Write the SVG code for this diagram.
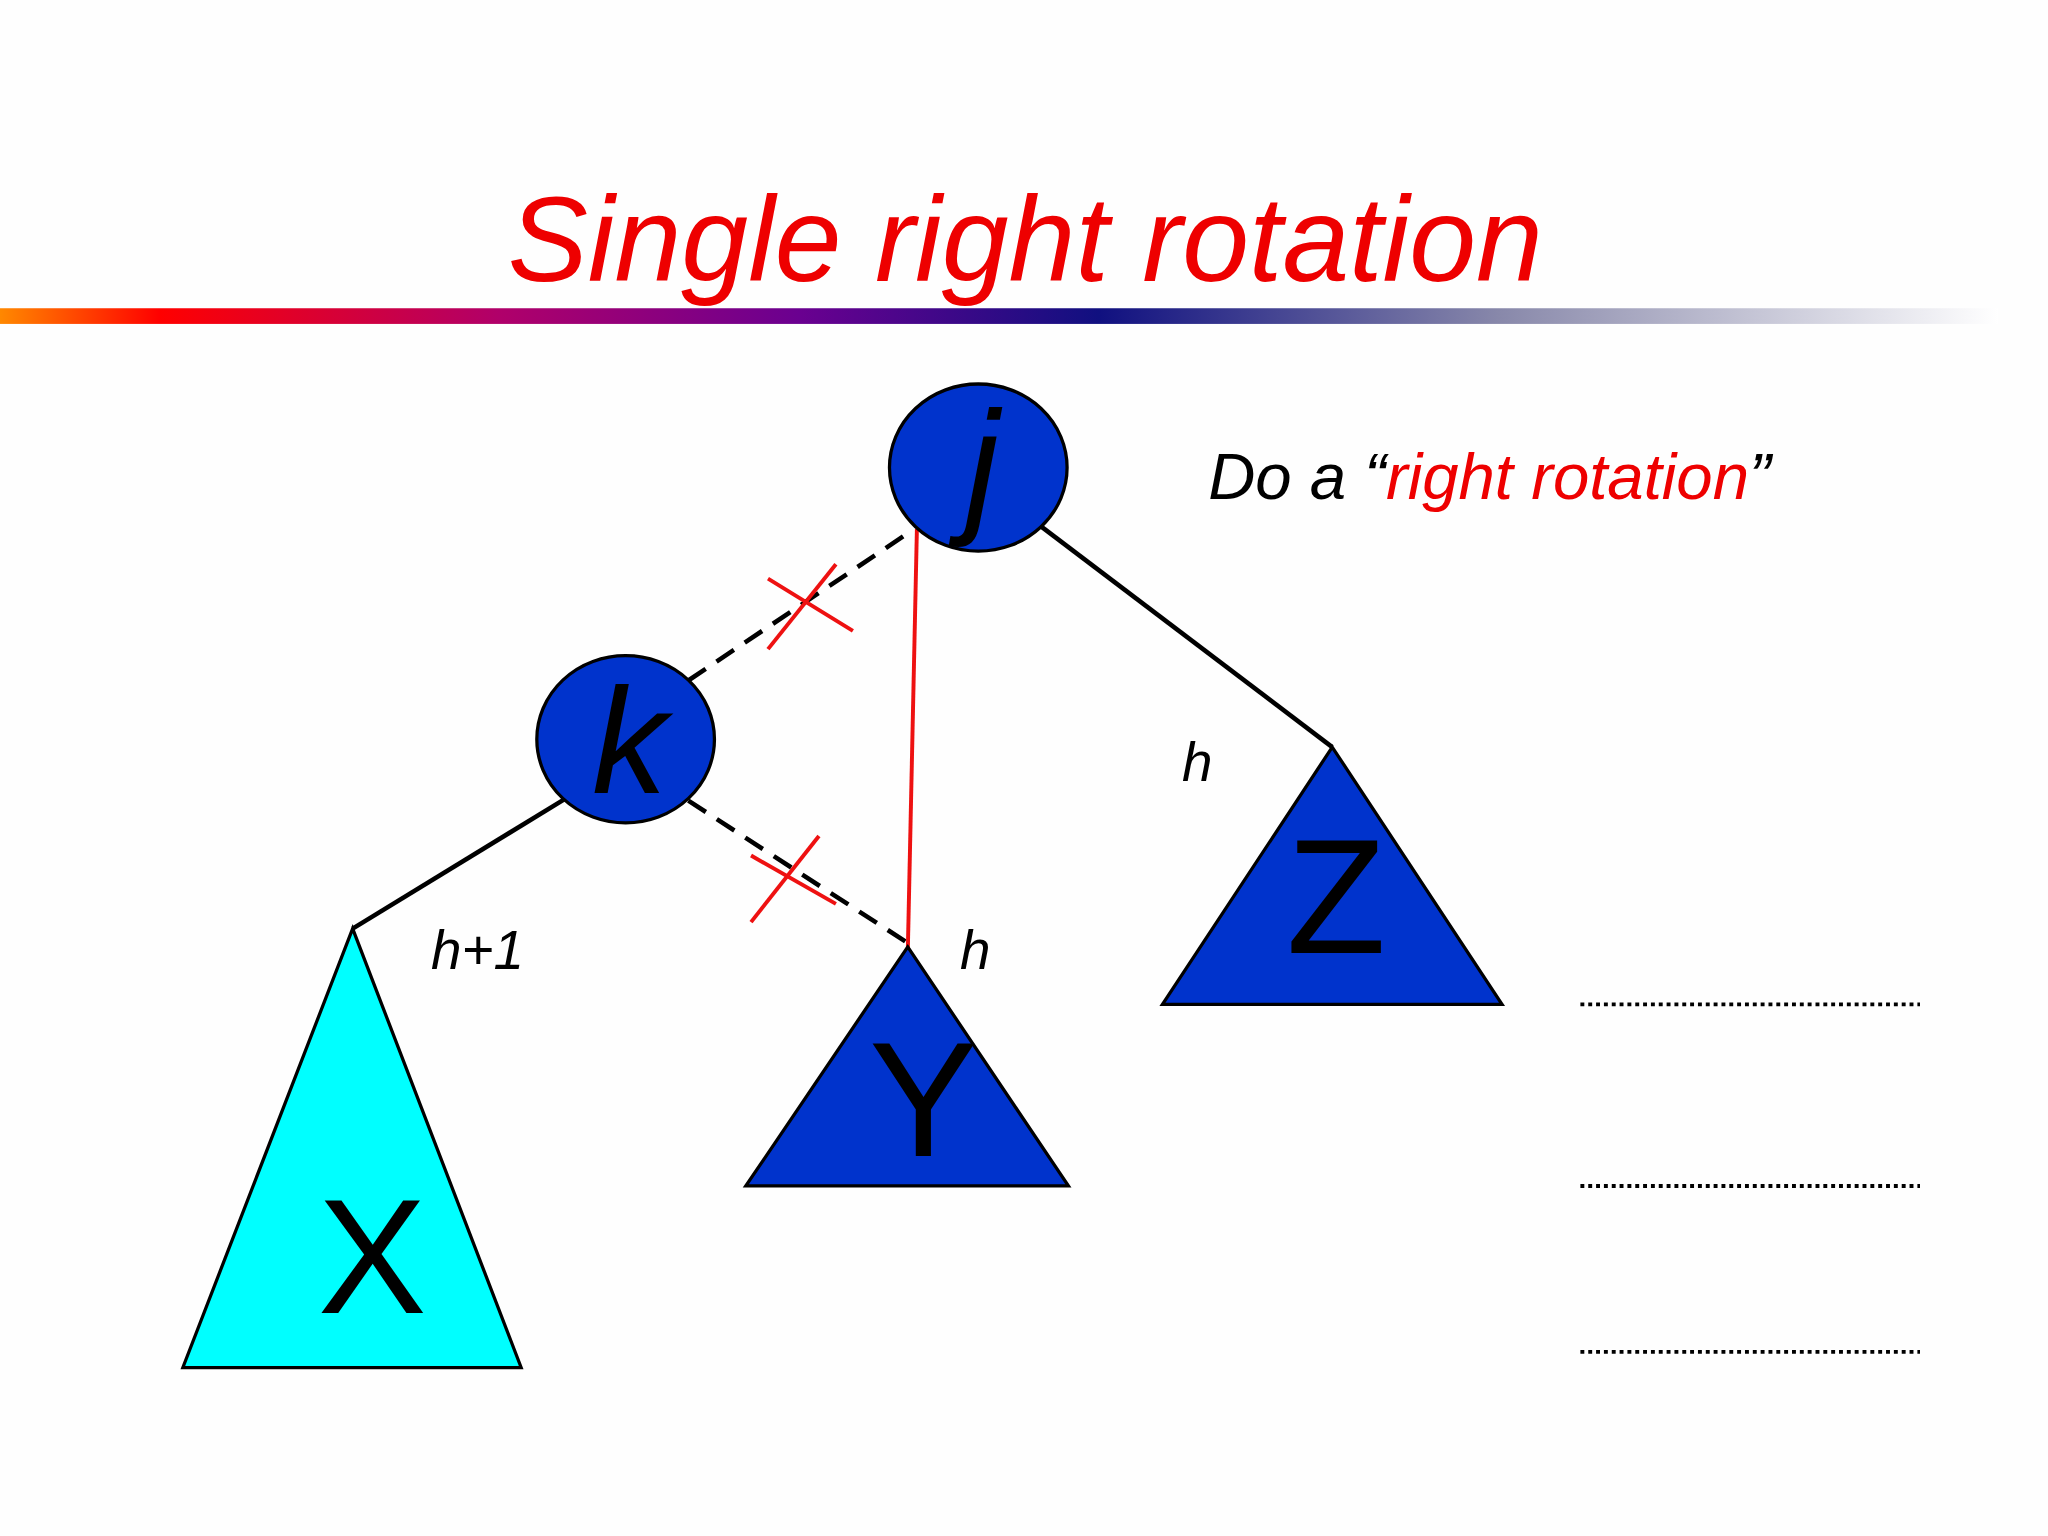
<svg xmlns="http://www.w3.org/2000/svg" width="2048" height="1536" viewBox="0 0 2048 1536">
<defs>
<linearGradient id="bar" x1="0" x2="1" y1="0" y2="0">
<stop offset="0" stop-color="#ff8800"/><stop offset="0.08" stop-color="#ff0000"/><stop offset="0.25" stop-color="#b0006a"/><stop offset="0.4" stop-color="#6a0090"/><stop offset="0.55" stop-color="#101080"/><stop offset="0.75" stop-color="#8888aa"/><stop offset="1" stop-color="#ffffff"/>
</linearGradient>
<style>
.node{fill:#0033cc;stroke:#000;stroke-width:2.5}
.lbl{font-family:"Liberation Sans",Arial,sans-serif;font-style:italic;fill:#000}
.big{font-family:"Liberation Sans",Arial,sans-serif;fill:#000;font-size:125px;text-anchor:middle}
.ln{stroke:#000;stroke-width:3.5;fill:none}
.dash{stroke:#000;stroke-width:3.5;stroke-dasharray:16,10;fill:none}
.red{stroke:#ee1111;stroke-width:3;fill:none}
.dot{stroke:#000;stroke-width:3;stroke-dasharray:3,3}
</style>
</defs>
<rect width="2048" height="1536" fill="#fefefe"/>
<g transform="scale(1.30612)">
<text x="785" y="215" text-anchor="middle" font-family="Liberation Sans,Arial,sans-serif" font-style="italic" font-size="92" fill="#ee0000">Single right rotation</text>
<rect x="0" y="236" width="1530" height="12" fill="url(#bar)"/>
<g id="connectors">
<line class="ln" x1="797" y1="403" x2="1020" y2="572"/>
<line class="ln" x1="432" y1="612" x2="270" y2="711"/>
<line class="dash" x1="527" y1="521" x2="697" y2="407"/>
<line class="dash" x1="527" y1="613" x2="695" y2="722"/>
<line class="red" x1="702" y1="405" x2="695" y2="730"/>
<line class="red" x1="588" y1="443" x2="653" y2="483"/>
<line class="red" x1="640" y1="432" x2="588" y2="497"/>
<line class="red" x1="575" y1="655" x2="640" y2="692"/>
<line class="red" x1="627" y1="640" x2="575" y2="706"/>
</g>
<g id="node-j"><ellipse class="node" cx="749" cy="358" rx="68" ry="64"/><text class="lbl" x="752" y="395" font-size="115" text-anchor="middle">j</text></g>
<g id="node-k"><ellipse class="node" cx="479" cy="566" rx="68" ry="64"/><text class="lbl" x="482" y="607" font-size="115" text-anchor="middle">k</text></g>
<g id="node-X"><polygon points="270,711 140,1047 399,1047" fill="#00ffff" stroke="#000" stroke-width="2.5"/><text class="big" x="285" y="1005">X</text></g>
<g id="node-Y"><polygon points="695,725 571,908 818,908" fill="#0033cc" stroke="#000" stroke-width="2.5"/><text class="big" x="707" y="885">Y</text></g>
<g id="node-Z"><polygon points="1020,572 890,769 1150,769" fill="#0033cc" stroke="#000" stroke-width="2.5"/><text class="big" x="1023" y="730">Z</text></g>
<text class="lbl" x="330" y="742" font-size="42">h+1</text>
<text class="lbl" x="735" y="742" font-size="42">h</text>
<text class="lbl" x="905" y="598" font-size="42">h</text>
<text class="lbl" x="925" y="382" font-size="50">Do a “<tspan fill="#ee0000">right rotation</tspan>”</text>
<line class="dot" x1="1210" y1="769" x2="1470" y2="769"/>
<line class="dot" x1="1210" y1="908" x2="1470" y2="908"/>
<line class="dot" x1="1210" y1="1035" x2="1470" y2="1035"/>
</g>
</svg>
